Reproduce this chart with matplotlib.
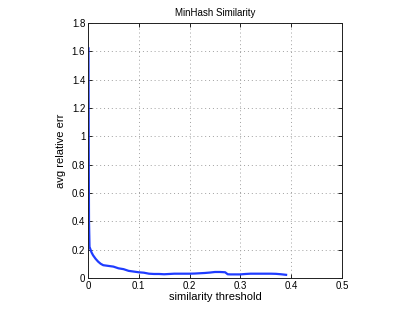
import matplotlib
matplotlib.use("Agg")
import matplotlib.pyplot as plt
import numpy as np

# similarity threshold vs. average relative error
threshold = [0.001, 0.0015, 0.002, 0.003, 0.005, 0.007, 0.01, 0.015, 0.02, 0.025, 0.03,
             0.04, 0.05, 0.06, 0.07, 0.08, 0.09, 0.1, 0.11, 0.12, 0.13, 0.14, 0.15,
             0.16, 0.17, 0.18, 0.19, 0.2, 0.21, 0.22, 0.23, 0.24, 0.25, 0.26, 0.27,
             0.275, 0.28, 0.29, 0.3, 0.31, 0.32, 0.33, 0.34, 0.35, 0.36, 0.37, 0.38, 0.39]
avg_err = [1.62, 0.9, 0.4, 0.22, 0.2, 0.18, 0.16, 0.135, 0.115, 0.1, 0.09,
           0.085, 0.08, 0.068, 0.062, 0.05, 0.045, 0.04, 0.037, 0.03, 0.028, 0.028, 0.026,
           0.028, 0.03, 0.03, 0.03, 0.03, 0.031, 0.033, 0.035, 0.038, 0.042, 0.042, 0.04,
           0.026, 0.025, 0.025, 0.025, 0.028, 0.03, 0.03, 0.03, 0.03, 0.03, 0.029, 0.026, 0.022]

plt.rcParams['font.family'] = ['Liberation Sans', 'DejaVu Sans']

fig = plt.figure(figsize=(4.15, 3.13), dpi=100)
ax = fig.add_axes([0.212, 0.112, 0.612, 0.815])
ax.plot(threshold, avg_err, color="#1f3cff", linewidth=1.6)

ax.set_xlim(0, 0.5)
ax.set_ylim(0, 1.8)
ax.set_xticks(np.arange(0, 0.51, 0.1))
ax.set_xticklabels(['0', '0.1', '0.2', '0.3', '0.4', '0.5'])
ax.set_yticks(np.arange(0, 1.81, 0.2))
ax.set_yticklabels(['0', '0.2', '0.4', '0.6', '0.8', '1', '1.2', '1.4', '1.6', '1.8'])
ax.tick_params(direction='in', length=3, width=0.6, labelsize=7, top=True, right=True, pad=2)
ax.grid(True, linestyle=(0, (1, 3)), color='#a0a0a0', linewidth=0.7)
for s in ax.spines.values():
    s.set_linewidth(0.7)
    s.set_color('#202020')

ax.set_xlabel('similarity threshold', fontsize=8, labelpad=1)
ax.set_ylabel('avg relative err', fontsize=8, labelpad=4)
ax.set_title('MinHash Similarity', fontsize=7, pad=5)

fig.savefig("out.png", dpi=100)
